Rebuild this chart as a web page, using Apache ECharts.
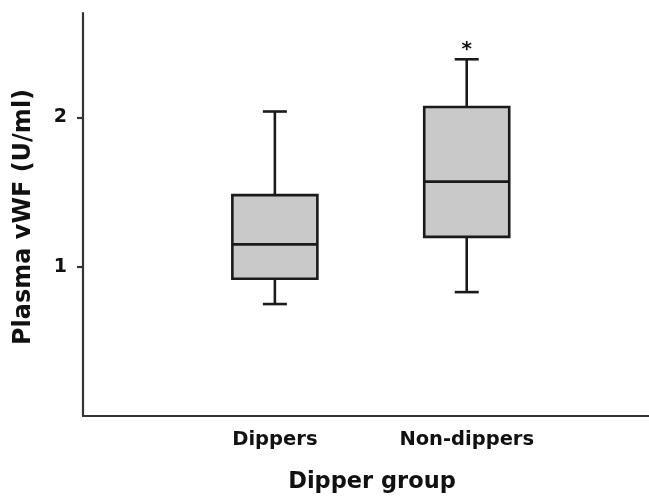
<!DOCTYPE html>
<html>
<head>
<meta charset="utf-8">
<script src="https://cdn.jsdelivr.net/npm/echarts@6/dist/echarts.min.js"></script>
<style>html,body{margin:0;padding:0;background:#fff}#c{width:649px;height:496px}</style>
</head>
<body>
<div id="c"></div>
<script>
var categories = ['Dippers', 'Non-dippers'];
var whiskerMin = [0.75, 0.83];
var q1Values = [0.92, 1.20];
var medianValues = [1.15, 1.57];
var q3Values = [1.48, 2.07];
var whiskerMax = [2.04, 2.39];
var significance = ['', '*'];
var yTickValues = [1, 2];
var xAxisTitle = 'Dipper group';
var yAxisTitle = 'Plasma vWF (U/ml)';

var boxData = categories.map(function (c, i) {
  return [i + 1, whiskerMin[i], q1Values[i], medianValues[i], q3Values[i], whiskerMax[i]];
});
var FONT = '"DejaVu Sans", Verdana, sans-serif';
var chart = echarts.init(document.getElementById('c'));
chart.setOption({
  animation: false,
  grid: { left: 83, right: 0, top: 13, bottom: 80 },
  xAxis: {
    type: 'value', min: 0, max: 2.95,
    splitLine: { show: false },
    axisLine: { show: true, lineStyle: { color: '#333', width: 2.2 } },
    axisTick: { show: false },
    axisLabel: {
      customValues: [1, 2],
      margin: 14,
      fontFamily: FONT, fontWeight: 'bold', fontSize: 19.5, color: '#111',
      formatter: function (v) { return categories[Math.round(v) - 1] || ''; }
    }
  },
  yAxis: {
    type: 'value', min: 0, max: 2.7,
    splitLine: { show: false },
    axisLine: { show: true, lineStyle: { color: '#333', width: 2.2 } },
    axisTick: { show: true, customValues: yTickValues, length: 6, lineStyle: { color: '#333', width: 2.2 } },
    axisLabel: {
      customValues: yTickValues, margin: 16,
      fontFamily: FONT, fontWeight: 'bold', fontSize: 19, color: '#111'
    }
  },
  series: [{
    type: 'custom',
    data: boxData,
    renderItem: function (params, api) {
      var x = api.value(0);
      var pMin = api.coord([x, api.value(1)]);
      var pQ1 = api.coord([x, api.value(2)]);
      var pMed = api.coord([x, api.value(3)]);
      var pQ3 = api.coord([x, api.value(4)]);
      var pMax = api.coord([x, api.value(5)]);
      var cx = pMed[0];
      var hw = 42.5, cw = 12;
      var ls = { stroke: '#1a1a1a', lineWidth: 2.6, fill: null };
      var sig = significance[params.dataIndex];
      var children = [
        { type: 'line', shape: { x1: cx, y1: pMax[1], x2: cx, y2: pQ3[1] }, style: ls },
        { type: 'line', shape: { x1: cx, y1: pQ1[1], x2: cx, y2: pMin[1] }, style: ls },
        { type: 'line', shape: { x1: cx - cw, y1: pMax[1], x2: cx + cw, y2: pMax[1] }, style: ls },
        { type: 'line', shape: { x1: cx - cw, y1: pMin[1], x2: cx + cw, y2: pMin[1] }, style: ls },
        { type: 'rect', shape: { x: cx - hw, y: pQ3[1], width: 2 * hw, height: pQ1[1] - pQ3[1] },
          style: { fill: '#c9c9c9', stroke: '#1a1a1a', lineWidth: 2.6 } },
        { type: 'line', shape: { x1: cx - hw, y1: pMed[1], x2: cx + hw, y2: pMed[1] }, style: ls }
      ];
      if (sig) {
        children.push({ type: 'text', x: cx, y: pMax[1] - 9,
          style: { text: sig, fill: '#111', font: 'bold 20px ' + FONT, align: 'center', verticalAlign: 'middle' } });
      }
      return { type: 'group', children: children };
    }
  }],
  graphic: [
    { type: 'text', x: 372, y: 482,
      style: { text: xAxisTitle, fill: '#111', font: 'bold 22.5px ' + FONT, align: 'center', verticalAlign: 'middle' } },
    { type: 'text', x: 24, y: 217, rotation: Math.PI / 2,
      style: { text: yAxisTitle, fill: '#111', font: 'bold 24px ' + FONT, align: 'center', verticalAlign: 'middle' } }
  ]
});
</script>
</body>
</html>
